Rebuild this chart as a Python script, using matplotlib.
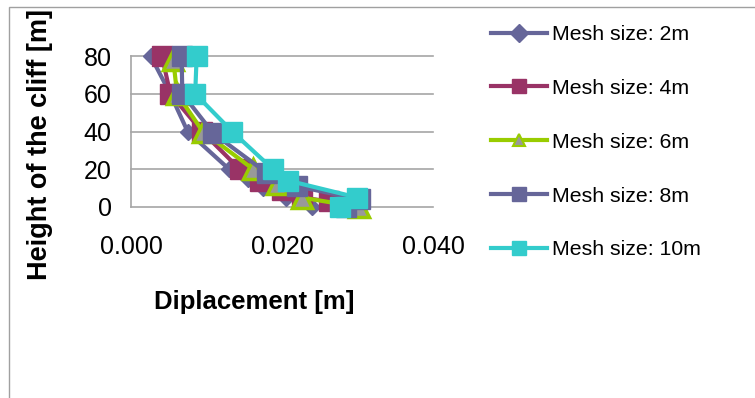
import matplotlib
matplotlib.use("Agg")
import matplotlib.pyplot as plt
from matplotlib.lines import Line2D
from matplotlib.patches import Rectangle

plt.rcParams['font.family'] = ['Liberation Sans', 'DejaVu Sans']

# ---- data ----
labels = ["Mesh size: 2m", "Mesh size: 4m", "Mesh size: 6m", "Mesh size: 8m", "Mesh size: 10m"]
h_2m = [80, 60, 40, 20, 15, 10, 5, 0]
d_2m = [0.0026, 0.0052, 0.0075, 0.0130, 0.0155, 0.0175, 0.0205, 0.0240]
h_4m = [80, 60, 40, 20, 14, 9, 5, 3]
d_4m = [0.0041, 0.0052, 0.0094, 0.0144, 0.0171, 0.0200, 0.0226, 0.0262]
h_6m = [78, 60, 40, 20, 12, 5, 0]
d_6m = [0.0056, 0.0061, 0.0095, 0.0162, 0.0193, 0.0226, 0.0302]
h_8m = [80, 60, 39, 18, 11, 4, 0]
d_8m = [0.0067, 0.0068, 0.0109, 0.0180, 0.0220, 0.0303, 0.0285]
h_10m = [80, 60, 40, 20, 14, 5, 0]
d_10m = [0.0087, 0.0085, 0.0134, 0.0188, 0.0208, 0.0300, 0.0277]
x_ticks = [0.0, 0.02, 0.04]
y_ticks = [0, 20, 40, 60, 80]

W, H = 755, 398
fig = plt.figure(figsize=(W / 100, H / 100), dpi=100)
fig.patch.set_facecolor('white')
# chart border
fig.patches.append(Rectangle((9 / W, -0.1), 1.2, (H - 7) / H + 0.1, transform=fig.transFigure,
                             fill=False, edgecolor='#A0A0A0', linewidth=1.0))

ax = fig.add_axes([131 / W, (H - 207) / H, 302 / W, 151 / H])
ax.set_xlim(0, 0.04)
ax.set_ylim(0, 80)

grid_c = '#A6A6A6'
for y in y_ticks:
    ax.axhline(y, color=grid_c, linewidth=1.2, zorder=0, clip_on=False)
for s in ['top', 'right', 'bottom']:
    ax.spines[s].set_visible(False)
ax.spines['left'].set_color(grid_c)
ax.spines['left'].set_linewidth(1.2)

series = [
    (d_2m, h_2m, dict(color='#666699', marker='D', markersize=8, markerfacecolor='#666699', markeredgecolor='#666699')),
    (d_4m, h_4m, dict(color='#993366', marker='s', markersize=14.5, markerfacecolor='#993366', markeredgecolor='#993366')),
    (d_6m, h_6m, dict(color='#99CC00', marker='^', markersize=14, markerfacecolor='#999999', markeredgecolor='#99CC00', markeredgewidth=2.5)),
    (d_8m, h_8m, dict(color='#666699', marker='s', markersize=14.5, markerfacecolor='#666699', markeredgecolor='#666699')),
    (d_10m, h_10m, dict(color='#33CCCC', marker='s', markersize=14.5, markerfacecolor='#33CCCC', markeredgecolor='#33CCCC')),
]
for (xs, ys, st), lab in zip(series, labels):
    ax.plot(xs, ys, linewidth=3.0, clip_on=False, label=lab, zorder=3, **st)

ax.set_xticks(x_ticks)
ax.set_xticklabels(["%.3f" % v for v in x_ticks])
ax.set_yticks(y_ticks)
ax.tick_params(axis='x', length=0, pad=20.5, labelsize=18)
ax.tick_params(axis='y', length=0, pad=14, labelsize=18)

ax.set_xlabel("Diplacement [m]", fontsize=18.5, fontweight='bold')
ax.xaxis.label.set_va('center')
ax.xaxis.set_label_coords((254 - 131) / 302, (207 - 302) / 151)
ax.set_ylabel("Height of the cliff [m]", fontsize=19.5, fontweight='bold')
ax.yaxis.label.set_va('center')
ax.yaxis.set_label_coords((40 - 131) / 302, (207 - 145) / 151)

# legend
handles = []
for (xs, ys, st), lab in zip(series, labels):
    st2 = dict(st)
    st2['markersize'] = 10.5 if st['marker'] == 's' else 9
    if st['marker'] == '^':
        st2['markeredgewidth'] = 1.5
    handles.append(Line2D([0], [0], linewidth=3.0, **st2))
fig.legend(handles, labels, loc='upper left', bbox_to_anchor=(491 / W, 1 - 25 / H),
           frameon=False, fontsize=15.3, handlelength=2.63, handletextpad=0.24,
           labelspacing=1.64, borderaxespad=0, borderpad=0)

fig.savefig("out.png", dpi=100)
